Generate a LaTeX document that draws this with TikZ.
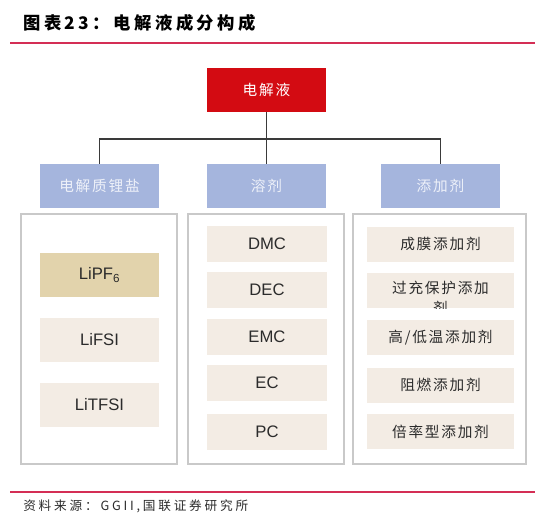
\documentclass[tikz,border=0pt]{standalone}
\usepackage{fontspec}
\setmainfont{Liberation Sans}
\newfontfamily\cjk{Noto Sans CJK SC}
\newfontfamily\cjkwide[LetterSpace=12]{Noto Sans CJK SC}
\newfontfamily\cjktitle[LetterSpace=20]{Noto Sans CJK SC}
\newfontfamily\cjkfoot[LetterSpace=22]{Noto Sans CJK SC}
\usetikzlibrary{positioning}
\definecolor{topred}{HTML}{D30B12}
\definecolor{catblue}{HTML}{A5B5DD}
\definecolor{catfont}{HTML}{EEF1F9}
\definecolor{itembeige}{HTML}{F3ECE4}
\definecolor{itemgold}{HTML}{E2D3AC}
\definecolor{framegray}{HTML}{C9C9C9}
\definecolor{linegray}{HTML}{3A3A3A}
\definecolor{rulered}{HTML}{D42E55}
\definecolor{textdark}{HTML}{2B2B2B}

\begin{document}
\begin{tikzpicture}[x=0.75pt, y=-0.75pt,
  topbox/.style={rectangle, fill=topred, inner sep=0pt, minimum width=89.25pt, minimum height=33pt, text=white, font=\cjkwide\fontsize{11}{13}\selectfont},
  catbox/.style={rectangle, fill=catblue, inner sep=0pt, minimum width=89.25pt, minimum height=33pt, text=catfont, font=\cjkwide\fontsize{11}{13}\selectfont},
  framebox/.style={rectangle, draw=framegray, line width=1.1pt, inner sep=0pt, minimum height=187.5pt},
  saltbox/.style={rectangle, fill=itembeige, inner sep=0pt, minimum width=89.25pt, minimum height=33pt, text=textdark, font=\fontsize{12.5}{14}\selectfont},
  solvbox/.style={rectangle, fill=itembeige, inner sep=0pt, minimum width=90pt, minimum height=27pt, text=textdark, font=\fontsize{12.5}{14}\selectfont},
  addbox/.style={rectangle, fill=itembeige, inner sep=0pt, minimum width=110.25pt, minimum height=26.25pt, text=textdark, font=\cjkwide\fontsize{11}{15}\selectfont},
  conn/.style={draw=linegray, line width=1pt}]
\useasboundingbox (0,0) rectangle (550,517);

% title and rules
\node[anchor=west, inner sep=0pt, font=\cjktitle\bfseries\fontsize{13}{15}\selectfont] (title) at (23,23) {图表23：电解液成分构成};
\draw[rulered, line width=1.1pt] (10,43) -- (535,43);
\draw[rulered, line width=1.1pt] (10,492) -- (535,492);
\node[anchor=west, inner sep=0pt, text=textdark, font=\cjkfoot\fontsize{9.5}{11}\selectfont] (source) at (23,506) {资料来源：GGII,国联证券研究所};

% tree
\node[topbox] (elyte) at (266.5,90) {电解液};
\node[catbox] (salt) at (99.5,186) {电解质锂盐};
\node[catbox] (solvent) at (266.5,186) {溶剂};
\node[catbox] (additive) at (440.5,186) {添加剂};

\coordinate (bus) at (266.5,139);
\draw[conn] (elyte.south) -- (bus);
\draw[conn] (bus) -| (salt.north);
\draw[conn] (bus) -- (solvent.north);
\draw[conn] (bus) -| (additive.north);

% frames
\node[framebox, minimum width=117pt] (saltframe) at (99,339) {};
\node[framebox, minimum width=117pt] (solvframe) at (266,339) {};
\node[framebox, minimum width=129.75pt] (addframe) at (439.5,339) {};

% lithium salts
\node[saltbox, fill=itemgold] (lipf) at (99.5,275) {LiPF\textsubscript{6}};
\node[saltbox] (lifsi) at (99.5,340) {LiFSI};
\node[saltbox] (litfsi) at (99.5,405) {LiTFSI};

% solvents
\node[solvbox] (dmc) at (267,244) {DMC};
\node[solvbox] (dec) at (267,290) {DEC};
\node[solvbox] (emc) at (267,336.5) {EMC};
\node[solvbox] (ec) at (267,382.5) {EC};
\node[solvbox] (pc) at (267,431.5) {PC};

% additives
\node[addbox] (film) at (440.5,244) {成膜添加剂};
\node[addbox] (overcharge) at (440.5,290.5) {};
\begin{scope}
  \clip (overcharge.south west) rectangle (overcharge.north east);
  \node[addbox, fill=none, minimum width=0pt, minimum height=0pt, align=center, anchor=north] (overchargetxt) at (440.5,281) {过充保护添加\\剂};
\end{scope}
\node[addbox] (temp) at (440.5,337.5) {高/低温添加剂};
\node[addbox] (flame) at (440.5,385) {阻燃添加剂};
\node[addbox] (rate) at (440.5,431.5) {倍率型添加剂};
\end{tikzpicture}
\end{document}
